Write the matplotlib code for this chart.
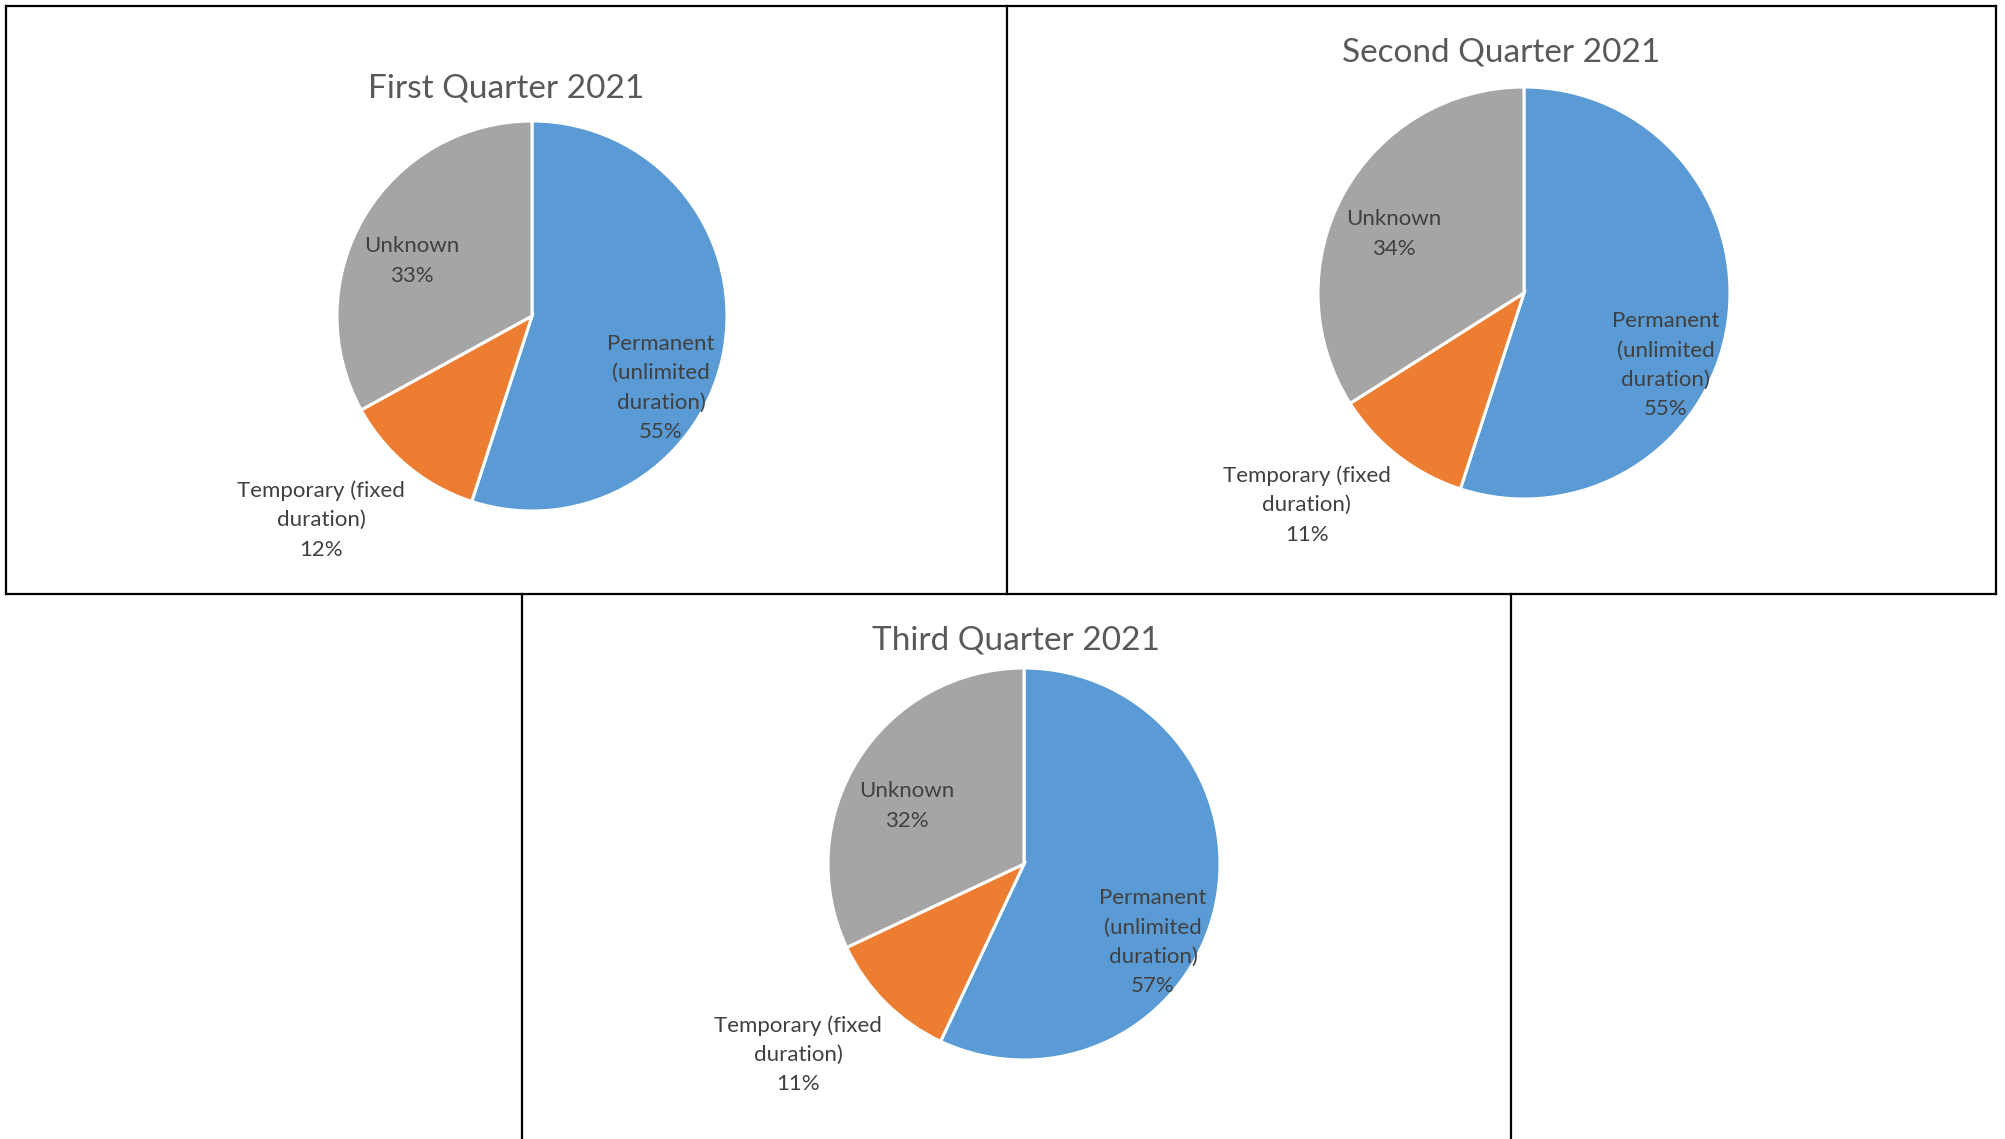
"""Employment contract type shares, three quarters of 2021, as pie charts
laid out in a bordered grid (two panels on top, one centred below)."""

import matplotlib
matplotlib.use("Agg")
import matplotlib.pyplot as plt
from matplotlib.lines import Line2D

# data
categories = ["Permanent\n(unlimited\nduration)", "Temporary (fixed\nduration)", "Unknown"]
titles = ["First Quarter 2021", "Second Quarter 2021", "Third Quarter 2021"]
q1_share = [55, 12, 33]
q2_share = [55, 11, 34]
q3_share = [57, 11, 32]
colors = ["#5B9BD5", "#ED7D31", "#A5A5A5"]

W, H = 2005, 1139
TEXT = "#404040"
TITLE = "#595959"
FONT = ["Lato", "DejaVu Sans"]

fig = plt.figure(figsize=(W / 100, H / 100), dpi=100)
fig.patch.set_facecolor("white")


def fx(x):
    return x / W


def fy(y):
    return 1 - y / H


def frame(x0, y0, x1, y1):
    fig.add_artist(Line2D([fx(x0), fx(x1)], [fy(y0), fy(y1)],
                          transform=fig.transFigure, color="black", lw=1.6,
                          solid_capstyle="projecting"))


# grid borders (pixel layout)
frame(6, 6, 1996, 6)
frame(6, 594, 1996, 594)
frame(6, 6, 6, 594)
frame(1007, 6, 1007, 594)
frame(1996, 6, 1996, 594)
frame(522, 594, 522, H)
frame(1511, 594, 1511, H)

# layout per panel: pie centre (px), radius (px), title centre (px),
# label offsets in pie radii for each category
panels = [
    dict(values=q1_share, cx=532, cy=316, r=195, tx=506, ty=89,
         offs=[(0.662, -0.369), (-1.082, -1.046), (-0.615, 0.282)]),
    dict(values=q2_share, cx=1524, cy=293, r=206, tx=1501, ty=53,
         offs=[(0.689, -0.350), (-1.055, -1.029), (-0.631, 0.286)]),
    dict(values=q3_share, cx=1024, cy=864, r=196, tx=1016, ty=641,
         offs=[(0.658, -0.398), (-1.153, -0.974), (-0.597, 0.296)]),
]

for title, p in zip(titles, panels):
    r = p["r"]
    ax = fig.add_axes([fx(p["cx"] - r), fy(p["cy"] + r), 2 * r / W, 2 * r / H])
    ax.pie(p["values"], colors=colors, startangle=90, counterclock=False,
           radius=1, wedgeprops=dict(edgecolor="white", linewidth=2.2))
    ax.set_xlim(-1, 1)
    ax.set_ylim(-1, 1)
    ax.set_aspect("equal")
    ax.axis("off")
    for name, val, (dx, dy) in zip(categories, p["values"], p["offs"]):
        ax.text(dx, dy, f"{name}\n{val}%", ha="center", va="center",
                fontsize=16, color=TEXT, family=FONT, linespacing=1.58)
    fig.text(fx(p["tx"]), fy(p["ty"]), title, ha="center", va="center",
             fontsize=24, color=TITLE, family=FONT)

fig.savefig("out.png", dpi=100, facecolor="white")
